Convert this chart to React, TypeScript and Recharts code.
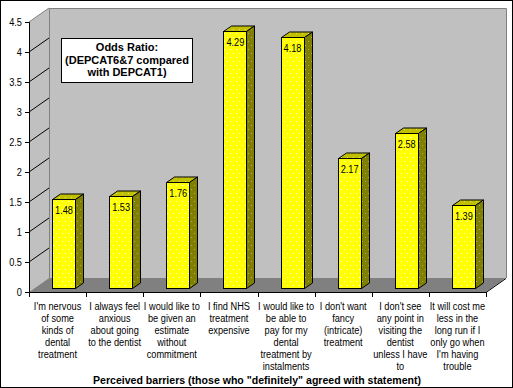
import React from 'react';
import { BarChart, Bar, XAxis, YAxis, CartesianGrid, LabelList } from 'recharts';

// perceived barriers, odds ratios
const categories = [
  "I'm nervous\nof some\nkinds of\ndental\ntreatment",
  'I always feel\nanxious\nabout going\nto the dentist',
  'I would like to\nbe given an\nestimate\nwithout\ncommitment',
  'I find NHS\ntreatment\nexpensive',
  'I would like to\nbe able to\npay for my\ndental\ntreatment by\ninstalments',
  "I don't want\nfancy\n(intricate)\ntreatment",
  "I don't see\nany point in\nvisiting the\ndentist\nunless I have\nto",
  "It will cost me\nless in the\nlong run if I\nonly go when\nI'm having\ntrouble",
];
const oddsRatios = [1.48, 1.53, 1.76, 4.29, 4.18, 2.17, 2.58, 1.39];
const yTicks = [0, 0.5, 1, 1.5, 2, 2.5, 3, 3.5, 4, 4.5];
const wallTicks = [0.5, 1, 1.5, 2, 2.5, 3, 3.5, 4];
const titleLines = ['Odds Ratio:', '(DEPCAT6&7 compared', 'with DEPCAT1)'];
const xTitle = 'Perceived barriers (those who "definitely" agreed with statement)';

const data = categories.map((name, i) => ({ name, value: oddsRatios[i] }));

const W = 513;
const H = 388;
// front plane of the 3d box
const LEFT = 29;
const RIGHT = 486;
const TOP = 22;
const BOTTOM = 292;
// depth of the box
const DX = 20;
const DY = -14;
// bars sit a bit back from the front plane
const SHIFT_X = 6;
const SHIFT_Y = -4;
const BX = 8;
const BY = -5.5;
const BAND = (RIGHT - LEFT) / categories.length;

const FONT = "'Liberation Sans', Arial, sans-serif";
// the old bitmap font is narrower than Arial, squeeze the text horizontally
const SQUEEZE = 0.84;

// text squeezed around its anchor point
const Narrow = ({ x, y, anchor = 'middle', children }: any) => (
  <g transform={`translate(${x},${y}) scale(${SQUEEZE},1)`}>
    <text x={0} y={0} textAnchor={anchor} fontSize={11} fontFamily={FONT} fill="#000">
      {children}
    </text>
  </g>
);

const Bar3D = (props: any) => {
  const { x, y, width, height } = props;
  const fx = Math.round(x + SHIFT_X) + 0.5;
  const fy = Math.round(y + SHIFT_Y) + 0.5;
  const fb = Math.round(y + height + SHIFT_Y) + 0.5;
  const w = Math.round(width);
  const r = fx + w;
  return (
    <g>
      <polygon
        points={`${fx},${fy} ${fx + BX},${fy + BY} ${r + BX},${fy + BY} ${r},${fy}`}
        fill="url(#topDots)"
        stroke="#000"
      />
      <polygon
        points={`${r},${fy} ${r + BX},${fy + BY} ${r + BX},${fb + BY} ${r},${fb}`}
        fill="url(#sideDots)"
        stroke="#000"
      />
      <rect x={fx} y={fy} width={w} height={fb - fy} fill="url(#frontDots)" stroke="#000" shapeRendering="crispEdges" />
    </g>
  );
};

const ValueLabel = (props: any) => {
  const { x, y, width, value } = props;
  return (
    <Narrow x={x + SHIFT_X + width / 2 + 0.5} y={y + SHIFT_Y + 15}>
      {value}
    </Narrow>
  );
};

const ValueTick = (props: any) => {
  const { y, payload } = props;
  const v = payload.value;
  return (
    <g>
      <line x1={LEFT - 4} y1={y} x2={LEFT} y2={y} stroke="#000" shapeRendering="crispEdges" />
      {v > 0 && (
        <line x1={LEFT} y1={y} x2={LEFT + DX} y2={y + DY} stroke={v === 4.5 ? '#808080' : '#000'} />
      )}
      <Narrow x={LEFT - 7} y={y + 4} anchor="end">
        {v}
      </Narrow>
    </g>
  );
};

const CategoryTick = (props: any) => {
  const { x, payload } = props;
  const lines = String(payload.value).split('\n');
  const left = Math.round(x - BAND / 2) + 0.5;
  const isLast = payload.value === categories[categories.length - 1];
  return (
    <g>
      <line x1={left} y1={BOTTOM} x2={left} y2={BOTTOM + 5} stroke="#000" />
      {isLast && (
        <line x1={Math.round(x + BAND / 2) + 0.5} y1={BOTTOM} x2={Math.round(x + BAND / 2) + 0.5} y2={BOTTOM + 5} stroke="#000" />
      )}
      <Narrow x={x} y={BOTTOM + 18}>
        {lines.map((l, i) => (
          <tspan key={i} x={0} dy={i === 0 ? 0 : 12}>
            {l}
          </tspan>
        ))}
      </Narrow>
    </g>
  );
};

export default function App() {
  const layer: React.CSSProperties = { position: 'absolute', left: 0, top: 0 };
  return (
    <div style={{ position: 'absolute', left: 0, top: 0, width: W, height: H, background: '#fff' }}>
      {/* walls and floor */}
      <svg width={W} height={H} style={layer}>
        <defs>
          <pattern id="frontDots" width="6" height="8" patternUnits="userSpaceOnUse">
            <rect width="6" height="8" fill="#ffff00" />
            <rect x="2" y="1" width="1" height="1" fill="#fff" />
            <rect x="5" y="5" width="1" height="1" fill="#fff" />
          </pattern>
          <pattern id="sideDots" width="6" height="8" patternUnits="userSpaceOnUse">
            <rect width="6" height="8" fill="#808000" />
            <rect x="2" y="1" width="1" height="1" fill="#b0b070" />
            <rect x="5" y="5" width="1" height="1" fill="#b0b070" />
          </pattern>
          <pattern id="topDots" width="6" height="8" patternUnits="userSpaceOnUse">
            <rect width="6" height="8" fill="#c0c000" />
            <rect x="2" y="1" width="1" height="1" fill="#e0e080" />
            <rect x="5" y="5" width="1" height="1" fill="#e0e080" />
          </pattern>
        </defs>
        <polygon points={`${LEFT},${TOP} ${LEFT + DX},${TOP + DY} ${LEFT + DX},${BOTTOM + DY} ${LEFT},${BOTTOM}`} fill="#c0c0c0" />
        <rect x={LEFT + DX} y={TOP + DY} width={RIGHT - LEFT} height={BOTTOM - TOP} fill="#c0c0c0" />
        <polygon
          points={`${LEFT},${BOTTOM} ${RIGHT},${BOTTOM} ${RIGHT + DX},${BOTTOM + DY} ${LEFT + DX},${BOTTOM + DY}`}
          fill="#808080"
        />
        <polyline
          points={`${LEFT + DX + 0.5},${BOTTOM + DY} ${LEFT + DX + 0.5},${TOP + DY + 0.5} ${RIGHT + DX + 0.5},${TOP + DY + 0.5} ${RIGHT + DX + 0.5},${BOTTOM + DY}`}
          fill="none"
          stroke="#808080"
        />
      </svg>

      {/* back wall gridlines */}
      <div style={layer}>
        <BarChart
          width={W}
          height={H}
          data={data}
          margin={{ top: TOP + DY, right: W - RIGHT - DX, bottom: H - BOTTOM - DY, left: LEFT + DX }}
        >
          <CartesianGrid vertical={false} stroke="#000" horizontalValues={wallTicks} />
          <XAxis dataKey="name" hide />
          <YAxis type="number" domain={[0, 4.5]} ticks={wallTicks} hide />
        </BarChart>
      </div>

      {/* front plane: axes and bars */}
      <div style={layer}>
        <BarChart
          width={W}
          height={H}
          data={data}
          margin={{ top: TOP, right: W - RIGHT, bottom: 0, left: 0 }}
          barSize={23}
        >
          <XAxis
            dataKey="name"
            height={H - BOTTOM}
            interval={0}
            tickLine={false}
            axisLine={{ stroke: '#000', shapeRendering: 'crispEdges' }}
            tick={<CategoryTick />}
          />
          <YAxis
            type="number"
            domain={[0, 4.5]}
            ticks={yTicks}
            interval={0}
            width={LEFT}
            tickLine={false}
            axisLine={{ stroke: '#000', shapeRendering: 'crispEdges' }}
            tick={<ValueTick />}
          />
          <Bar dataKey="value" shape={<Bar3D />} isAnimationActive={false}>
            <LabelList dataKey="value" content={<ValueLabel />} />
          </Bar>
        </BarChart>
      </div>

      {/* title box, axis title, frame */}
      <svg width={W} height={H} style={{ ...layer, pointerEvents: 'none' }}>
        <line x1={RIGHT} y1={BOTTOM + 0.5} x2={RIGHT + DX} y2={BOTTOM + DY + 0.5} stroke="#000" />
        <rect x={61.5} y={38.5} width={131} height={44} fill="#fff" stroke="#000" />
        <text textAnchor="middle" fontSize={11} fontWeight="bold" fontFamily={FONT} fill="#000">
          {titleLines.map((l, i) => (
            <tspan key={i} x={127} y={51 + i * 12.7}>
              {l}
            </tspan>
          ))}
        </text>
        <text
          x={257}
          y={384}
          textAnchor="middle"
          fontSize={11}
          fontWeight="bold"
          fontFamily={FONT}
          fill="#000"
          textLength={328}
          lengthAdjust="spacingAndGlyphs"
        >
          {xTitle}
        </text>
        <rect x={0.5} y={0.5} width={W - 1} height={H - 1} fill="none" stroke="#000" />
      </svg>
    </div>
  );
}
